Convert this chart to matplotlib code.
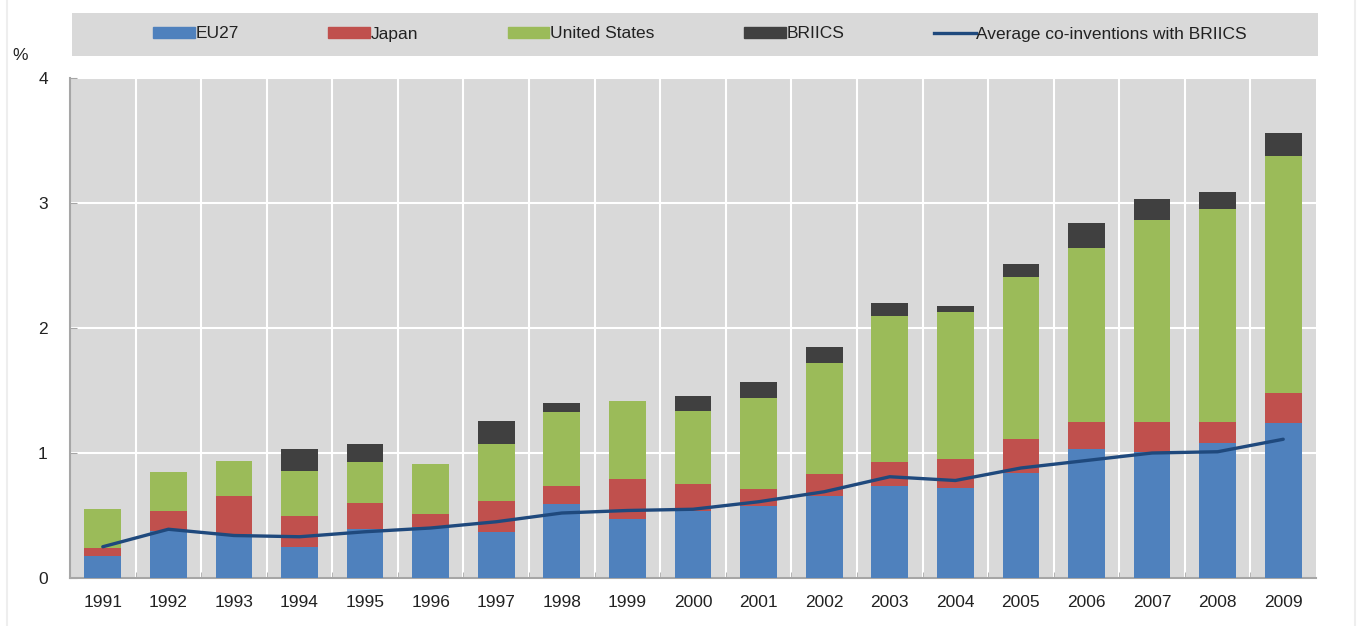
import numpy as np
import matplotlib
matplotlib.use("Agg")
import matplotlib.pyplot as plt
from matplotlib.patches import Rectangle, Patch
from matplotlib.lines import Line2D

years = ['1991', '1992', '1993', '1994', '1995', '1996', '1997', '1998', '1999', '2000',
         '2001', '2002', '2003', '2004', '2005', '2006', '2007', '2008', '2009']

eu27 = [0.18, 0.38, 0.35, 0.25, 0.39, 0.41, 0.37, 0.59, 0.47, 0.54,
        0.58, 0.66, 0.74, 0.72, 0.84, 1.03, 1.01, 1.08, 1.24]
japan = [0.06, 0.16, 0.31, 0.25, 0.21, 0.10, 0.25, 0.15, 0.32, 0.21,
         0.13, 0.17, 0.19, 0.23, 0.27, 0.22, 0.24, 0.17, 0.24]
usa = [0.31, 0.31, 0.28, 0.36, 0.33, 0.40, 0.45, 0.59, 0.63, 0.59,
       0.73, 0.89, 1.17, 1.18, 1.30, 1.39, 1.61, 1.70, 1.90]
briics = [0.0, 0.0, 0.0, 0.17, 0.14, 0.0, 0.19, 0.07, 0.0, 0.12,
          0.13, 0.13, 0.10, 0.05, 0.10, 0.20, 0.17, 0.14, 0.18]
avg_briics = [0.25, 0.39, 0.34, 0.33, 0.37, 0.40, 0.45, 0.52, 0.54, 0.55,
              0.61, 0.69, 0.81, 0.78, 0.88, 0.94, 1.00, 1.01, 1.11]

plt.rcParams['font.family'] = ['Liberation Sans', 'DejaVu Sans']

c_eu = '#4F81BD'
c_jp = '#C0504D'
c_us = '#9BBB59'
c_br = '#404040'
c_line = '#1F497D'
grey_bg = '#D9D9D9'

fig = plt.figure(figsize=(13.62, 6.26), dpi=100)
ax = fig.add_axes([70 / 1362, 1 - 578 / 626, 1246 / 1362, 500 / 626])
ax.set_facecolor(grey_bg)

x = np.arange(len(years))
w = 0.56
eu = np.array(eu27)
jp = np.array(japan)
us = np.array(usa)
br = np.array(briics)

ax.bar(x, eu, w, color=c_eu, zorder=3)
ax.bar(x, jp, w, bottom=eu, color=c_jp, zorder=3)
ax.bar(x, us, w, bottom=eu + jp, color=c_us, zorder=3)
ax.bar(x, br, w, bottom=eu + jp + us, color=c_br, zorder=3)
ax.plot(x, avg_briics, color=c_line, lw=2.4, zorder=4, solid_capstyle='round')

ax.set_xlim(-0.5, len(years) - 0.5)
ax.set_ylim(0, 4)
ax.set_yticks([0, 1, 2, 3, 4])
ax.set_xticks(x)
ax.set_xticklabels(years)
ax.set_xticks(np.arange(0.5, len(years) - 0.5, 1), minor=True)

ax.grid(axis='y', which='major', color='white', lw=1.5, zorder=1)
ax.grid(axis='x', which='minor', color='white', lw=1.5, zorder=1)
ax.grid(axis='x', which='major', visible=False)

for s in ['top', 'right']:
    ax.spines[s].set_visible(False)
for s in ['left', 'bottom']:
    ax.spines[s].set_color('#A6A6A6')
    ax.spines[s].set_linewidth(1.5)

ax.tick_params(axis='x', which='major', length=0, pad=12, labelsize=12.5, labelcolor='#222222')
ax.tick_params(axis='x', which='minor', direction='in', length=4, color='#A6A6A6')
ax.tick_params(axis='y', direction='in', length=5, color='#A6A6A6', pad=16,
               labelsize=12.5, labelcolor='#222222')

fig.text(20 / 1362, 1 - 55 / 626, '%', fontsize=12.5, ha='center', va='center', color='#222222')

# legend band
fig.add_artist(Rectangle((72 / 1362, 1 - 56 / 626), 1246 / 1362, 43 / 626,
                         transform=fig.transFigure, facecolor=grey_bg, edgecolor='none'))
handles = [Patch(color=c_eu), Patch(color=c_jp), Patch(color=c_us), Patch(color=c_br),
           Line2D([0], [0], color=c_line, lw=2.4)]
labels = ['EU27', 'Japan', 'United States', 'BRIICS', 'Average co-inventions with BRIICS']
fig.legend(handles, labels, loc='center', bbox_to_anchor=(700 / 1362, 1 - 34 / 626),
           ncol=5, frameon=False, fontsize=12.5, handlelength=2.4, handleheight=0.55,
           handletextpad=0.05, columnspacing=5.15, labelcolor='#222222')

# faint outer frame lines
fig.add_artist(Line2D([7 / 1362, 7 / 1362], [0, 1], transform=fig.transFigure, color='#EEEEEE', lw=1.5))
fig.add_artist(Line2D([1355 / 1362, 1355 / 1362], [0, 1], transform=fig.transFigure, color='#EEEEEE', lw=1.5))

fig.savefig('out.png', dpi=100)
